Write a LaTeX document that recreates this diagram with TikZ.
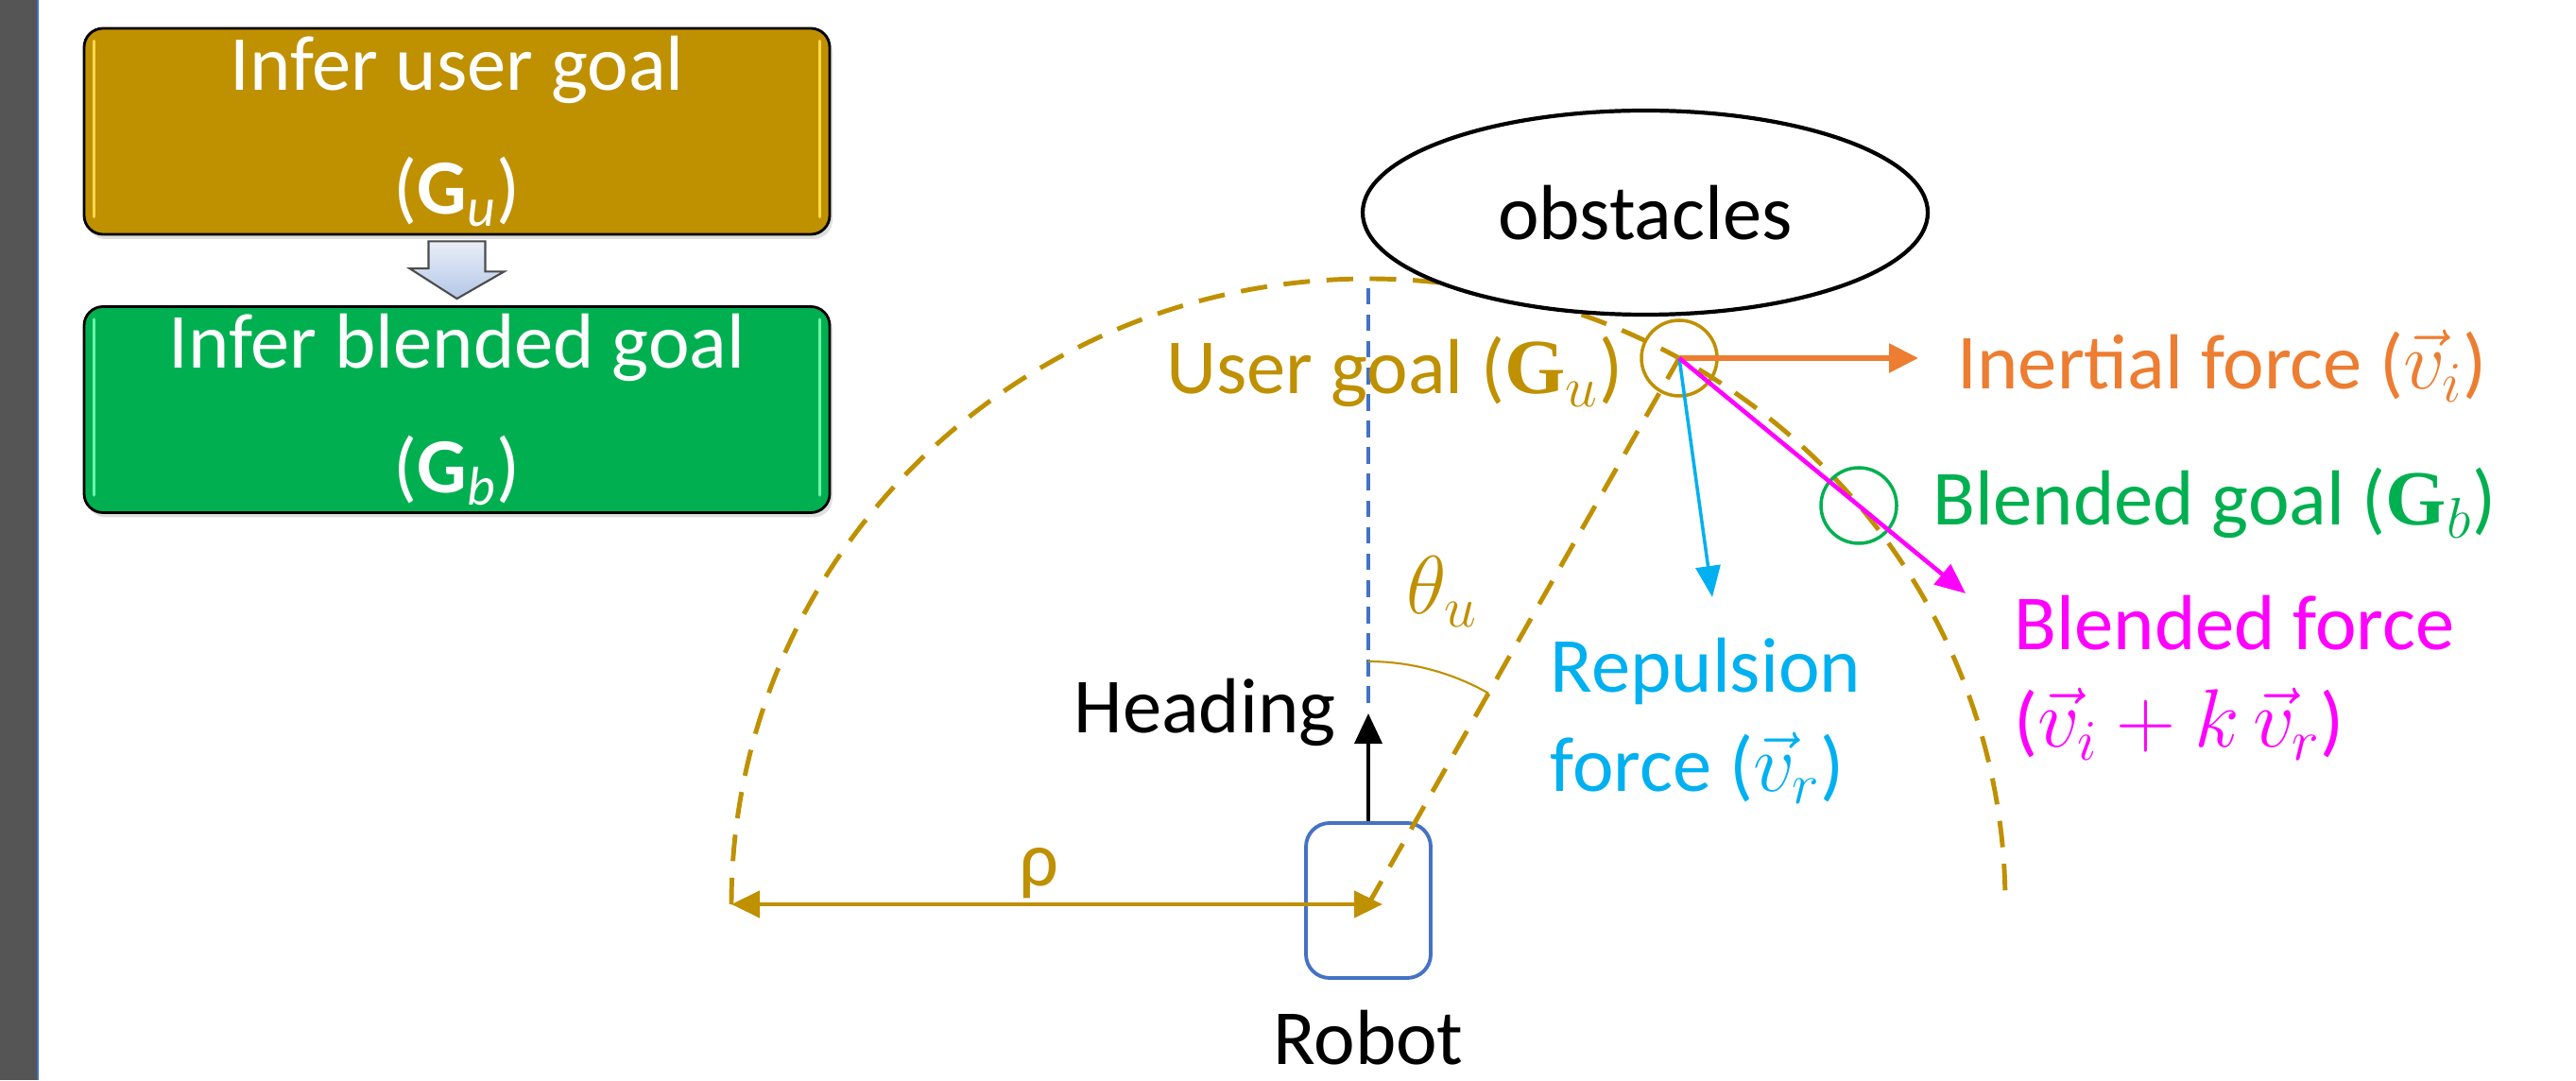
\documentclass[tikz,border=0pt]{standalone}
\usepackage{amsmath}
\usepackage{fontspec}
\setmainfont{Carlito}
\newfontfamily\gfont{Liberation Serif}
\usepackage{xcolor}
\usepackage{tikz}
\usetikzlibrary{calc,arrows.meta,shapes.geometric,shadows}
\definecolor{gold}{HTML}{BF9000}
\definecolor{leaf}{HTML}{00B050}
\definecolor{amber}{HTML}{ED7D31}
\definecolor{sky}{HTML}{00B0F0}
\definecolor{pink}{HTML}{FF00FF}
\definecolor{steel}{HTML}{4472C4}
\definecolor{sidebar}{HTML}{555555}
\definecolor{silver}{HTML}{B4C7E7}
\definecolor{goldshine}{HTML}{FFD94A}
\definecolor{leafshine}{HTML}{6BF5A8}
\tikzset{
  goalbox/.style={draw=black, line width=0.8pt, rounded corners=0.2cm, text=white, align=center,
    inner sep=0pt, minimum width=7.89cm, minimum height=2.18cm, font=\fontsize{23.5}{37.5}\selectfont,
    drop shadow={opacity=0.25, shadow xshift=0.03cm, shadow yshift=-0.05cm}},
  blockarrow/.style={draw=black!70, line width=0.6pt, top color=white!70!silver, bottom color=silver},
  lab/.style={font=\fontsize{23.5}{29}\selectfont, inner sep=0pt},
  ring/.style={circle, line width=1pt, minimum size=0.8cm, inner sep=0pt},
  arcline/.style={draw=gold, line width=1.4pt, dash pattern=on 8pt off 5pt},
  headline/.style={draw=steel, line width=0.9pt, dash pattern=on 5pt off 3pt},
  force/.style={line width=1.3pt, -{Triangle[length=0.32cm, width=0.27cm]}},
  rhotip/.tip={Triangle[length=0.3cm, width=0.28cm]},
}
\begin{document}
\begin{tikzpicture}
  \useasboundingbox (0,0) rectangle (27.26,11.43);
  \fill[sidebar] (0,0) rectangle (0.39,11.43);
  \draw[steel, line width=0.7pt] (0.4,0) -- (0.4,11.43);

  \node[goalbox, fill=gold] (userbox) at (4.835,10.04) {Infer user goal\\(\textbf{G}$_{\textit{u}}$)};
  \node[goalbox, fill=leaf] (blendbox) at (4.835,7.095) {Infer blended goal\\(\textbf{G}$_{\textit{b}}$)};
  \foreach \b/\c in {userbox/goldshine, blendbox/leafshine} {
    \draw[\c, line width=1pt, line cap=round] ($(\b.north west)+(0.12,-0.15)$) -- ($(\b.south west)+(0.12,0.2)$);
    \draw[\c, line width=1pt, line cap=round] ($(\b.north east)+(-0.12,-0.15)$) -- ($(\b.south east)+(-0.12,0.2)$);
  }
  \draw[blockarrow] ($(userbox.south)+(-0.3,-0.06)$) -- ++(0.6,0) -- ++(0,-0.32) -- ++(0.2,0)
    -- ($(blendbox.north)+(0,0.07)$) -- ++(-0.5,0.32) -- ++(0.2,0) -- cycle;

  \coordinate (rc) at (14.48,1.86);
  \coordinate (arcleft) at ($(rc)+(-6.74,0)$);
  \coordinate (arctop) at ($(rc)+(0,6.62)$);
  \coordinate (headtip) at (14.48,3.88);
  \coordinate (dashbot) at (14.48,3.99);
  \coordinate (vi) at (20.30,7.64);
  \coordinate (vr) at (18.12,5.11);
  \coordinate (vb) at (20.80,5.15);

  \draw[arcline] (arcleft) arc[start angle=180, end angle=0, x radius=6.74, y radius=6.62];
  \node[ellipse, draw, fill=white, line width=1.2pt, minimum width=5.98cm, minimum height=2.16cm, lab] (obs) at (17.41,9.18) {obstacles};

  \node[draw=steel, line width=1.1pt, rounded corners=0.25cm, minimum width=1.32cm, minimum height=1.64cm] (robot) at (14.48,1.9) {};
  \node[lab, anchor=base] (robotlab) at (14.48,0.17) {Robot};
  \draw[line width=1.1pt, -{Triangle[length=0.32cm, width=0.29cm]}] (robot.north) -- (headtip);
  \node[lab, anchor=base east] (headlab) at (14.14,3.68) {Heading};
  \draw[headline] (dashbot) -- (arctop);

  \node[ring, draw=gold] (ug) at (17.77,7.64) {};
  \node[ring, draw=leaf] (bg) at (19.67,6.08) {};
  \draw[arcline] (rc) -- (ug.center);
  \draw[gold, line width=0.6pt] ($(rc)+(0,2.57)$) arc[start angle=90, end angle=60.3, radius=2.57];
  \node[lab, text=gold, anchor=base west] (thlab) at (14.88,4.93) {$\theta_u$};
  \draw[gold, line width=1.3pt, {rhotip}-{rhotip}, shorten >=-0.15cm] (arcleft) -- (rc);
  \node[lab, text=gold, anchor=base] (rholab) at (10.99,2.06) {ρ};

  \draw[force, amber, line width=1.6pt, -{Triangle[length=0.31cm, width=0.3cm]}] (ug.center) -- (vi);
  \draw[force, sky, line width=1pt, -{Triangle[length=0.33cm, width=0.26cm]}] (ug.center) -- (vr);
  \draw[force, pink] (ug.center) -- (vb);

  \node[lab, text=gold, anchor=base east] (uglab) at (17.18,7.26) {User goal ({\gfont\bfseries G}$_u$)};
  \node[lab, text=amber, anchor=base west] (vilab) at (20.71,7.31) {Inertial force ($\vec{v}_i$)};
  \node[lab, text=leaf, anchor=base west] (bglab) at (20.45,5.87) {Blended goal ({\gfont\bfseries G}$_b$)};
  \node[lab, text=sky, anchor=base west] (vrlab) at (16.40,4.11) {Repulsion};
  \node[lab, text=sky, anchor=base west] (vrlab2) at (16.40,3.06) {force ($\vec{v}_r$)};
  \node[lab, text=pink, anchor=base west] (vblab) at (21.31,4.55) {Blended force};
  \node[lab, text=pink, anchor=base west] (vblab2) at (21.31,3.52) {($\vec{v}_i + k\,\vec{v}_r$)};
\end{tikzpicture}
\end{document}
